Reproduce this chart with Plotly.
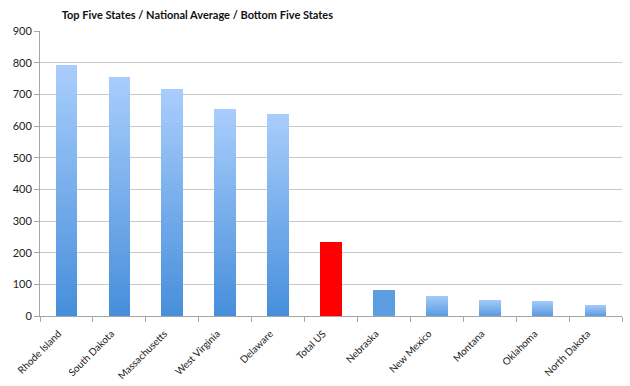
import plotly.graph_objects as go

# ---- data ----
states = ["Rhode Island", "South Dakota", "Massachusetts", "West Virginia", "Delaware",
          "Total US", "Nebraska", "New Mexico", "Montana", "Oklahoma", "North Dakota"]
values = [792, 755, 716, 655, 637, 233, 81, 62, 50, 47, 34]
title_text = "Top Five States / National Average / Bottom Five States"
y_ticks = [0, 100, 200, 300, 400, 500, 600, 700, 800, 900]

# ---- style ----
N_SEG = 40
TOP = (168, 205, 252)
BOTTOM = (72, 143, 219)
RED = "#ff0000"
NEB = "#5d9de1"
SOFT_TOP = (160, 200, 249)
SOFT_BOTTOM = (88, 154, 224)


def mix(a, b, t):
    return "rgb(%d,%d,%d)" % tuple(round(a[i] + (b[i] - a[i]) * t) for i in range(3))


fig = go.Figure()
for k in range(N_SEG):
    t = k / (N_SEG - 1)  # 0 bottom -> 1 top
    colors = []
    for s in states:
        if s == "Total US":
            colors.append(RED)
        elif s == "Nebraska":
            colors.append(NEB)
        elif s in ("New Mexico", "Montana", "Oklahoma", "North Dakota"):
            colors.append(mix(SOFT_BOTTOM, SOFT_TOP, t))
        else:
            colors.append(mix(BOTTOM, TOP, t))
    fig.add_trace(go.Bar(
        x=states,
        y=[v / N_SEG for v in values],
        marker=dict(color=colors, line=dict(width=0)),
        showlegend=False,
        hoverinfo="skip",
    ))

fig.update_layout(
    barmode="stack",
    bargap=0.59,
    width=630, height=386,
    margin=dict(l=40, r=8, t=31, b=70, autoexpand=False),
    paper_bgcolor="white", plot_bgcolor="white",
    font=dict(family="Lato, Liberation Sans, sans-serif", size=11, color="#222"),
    title=dict(text="<b>" + title_text + "</b>", x=0.098, xanchor="left",
               y=0.96, yanchor="middle", pad=dict(l=0, t=0, b=0, r=0),
               font=dict(family="Lato, sans-serif", size=11, color="#111")),
)
fig.update_xaxes(
    type="category",
    tickangle=-45,
    automargin=False,
    showline=True, linecolor="#a6a6a6", linewidth=1,
    ticks="outside", tickson="boundaries", ticklen=5, tickcolor="#a6a6a6",
    showgrid=False,
    ticklabelstandoff=7, ticklabelshift=-8,
    tickfont=dict(size=10),
)
fig.update_yaxes(
    range=[0, 900],
    tickvals=y_ticks,
    automargin=False,
    showline=True, linecolor="#a6a6a6", linewidth=1,
    ticks="outside", ticklen=5, tickcolor="#a6a6a6",
    showgrid=True, gridcolor="#c8c8c8", gridwidth=1,
    zeroline=False,
    tickfont=dict(size=11),
)
fig.write_html("out.html", config={"displayModeBar": False},
               post_script="document.body.style.margin='0';document.body.style.overflow='hidden';")
